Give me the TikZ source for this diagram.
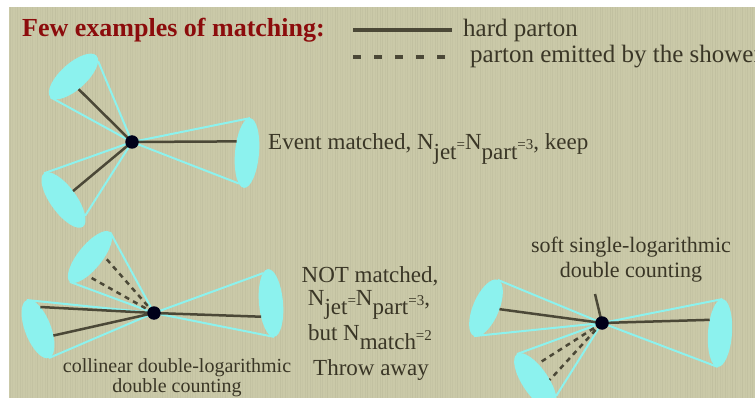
\documentclass[tikz,border=0pt]{standalone}
\usepackage{fontspec}
\setmainfont{Liberation Serif}
\usetikzlibrary{shapes.geometric}
\definecolor{paper}{HTML}{CAC9A8}
\definecolor{conecyan}{HTML}{8CF2EE}
\definecolor{parton}{HTML}{4B4837}
\definecolor{ink}{HTML}{3A3626}
\definecolor{titlered}{HTML}{8C0C0C}
% lowered index and small "=n" as in N_jet=3
\newcommand{\lowsub}[1]{\raisebox{-0.42em}{#1}}
\newcommand{\smallsym}[1]{{\fontsize{15}{15}\selectfont #1}}
\begin{document}
\begin{tikzpicture}[x=1pt,y=-1pt,
		jetell/.style={ellipse,fill=conecyan,inner sep=0pt,outer sep=0pt},
		cone/.style={conecyan,line width=2pt},
		hard/.style={parton,line width=2.5pt},
		soft/.style={parton,line width=2.5pt,dash pattern=on 5pt off 4.5pt},
		vertex/.style={circle,fill=black!90!blue,inner sep=0pt,minimum size=13.5pt},
		lbl/.style={text=ink,inner sep=0pt}]
		\useasboundingbox (0,0) rectangle (755,398);
		\fill[paper] (9,7) rectangle (755,398);
		\clip (9,7) rectangle (755,398);
		% paper grain
		\pgfmathsetseed{7}
		\foreach \sx in {10,12.5,...,755}
			\draw[black,opacity={0.01+0.035*rnd},line width=1pt] (\sx,7) -- (\sx,398);
		% title and legend
		\node[anchor=base west,inner sep=0pt,text=titlered,font=\fontsize{26}{30}\selectfont\bfseries] (title) at (22,37) {Few examples of matching:};
		\coordinate (hl1) at (353,30);
		\coordinate (hl2) at (452,30);
		\coordinate (sl1) at (353,57);
		\coordinate (sl2) at (446,57);
		\draw[parton,line width=3.5pt] (hl1) -- (hl2);
		\draw[parton,line width=3.5pt,dash pattern=on 8pt off 13pt] (sl1) -- (sl2);
		\node[lbl,anchor=base west,font=\fontsize{25}{29}\selectfont] (hardtxt) at (463,37) {hard parton};
		\node[lbl,anchor=base west,font=\fontsize{25}{29}\selectfont] (showertxt) at (470,63) {parton emitted by the shower};
		% event 1: three jets, all matched
		\coordinate (d1) at (132,142);
		\node[jetell,minimum width=62pt,minimum height=26pt,rotate=42] (e1a) at (73.5,76.5) {};
		\node[jetell,minimum width=70pt,minimum height=24pt,rotate=85] (e1b) at (247,153) {};
		\node[jetell,minimum width=66pt,minimum height=26pt,rotate=-54] (e1c) at (63.5,200) {};
		\draw[cone] (d1) -- (e1a.350) (d1) -- (e1a.west);
		\draw[cone] (d1) -- (e1b.east) (d1) -- (e1b.170);
		\draw[cone] (d1) -- (e1c.west) (d1) -- (e1c.18);
		\draw[hard] (d1) -- (e1a.250) (d1) -- (e1b.47) (d1) -- (e1c.97);
		\node[vertex] (v1) at (d1) {};
		\node[lbl,anchor=base west,font=\fontsize{23}{27}\selectfont] (evtxt) at (268,150) {Event matched, N\lowsub{jet}\smallsym{=}N\lowsub{part}\smallsym{=3}, keep};
		% event 2: collinear emission makes its own jet
		\coordinate (d2) at (154,313);
		\node[jetell,minimum width=64pt,minimum height=24pt,rotate=51] (e2a) at (90,257) {};
		\node[jetell,minimum width=62pt,minimum height=26pt,rotate=-69] (e2b) at (38,329) {};
		\node[jetell,minimum width=68pt,minimum height=24pt,rotate=95] (e2c) at (271,303) {};
		\draw[cone] (d2) -- (e2a.east) (d2) -- (e2a.west);
		\draw[cone] (d2) -- (e2b.west) (d2) -- (e2b.east);
		\draw[cone] (d2) -- (e2c.10) (d2) -- (e2c.west);
		\draw[hard] (d2) -- (e2b.153) (d2) -- (e2b.46) (d2) -- (e2c.139);
		\draw[soft] (d2) -- (e2a.309) (d2) -- (e2a.213);
		\node[vertex] (v2) at (d2) {};
		\node[lbl,anchor=base,font=\fontsize{20}{24}\selectfont] (coll1) at (177,372) {collinear double-logarithmic};
		\node[lbl,anchor=base,font=\fontsize{20}{24}\selectfont] (coll2) at (177,392) {double counting};
		\node[lbl,anchor=base,font=\fontsize{23}{27}\selectfont] (not1) at (370,282) {NOT matched,};
		\node[lbl,anchor=base,font=\fontsize{23}{27}\selectfont] (not2) at (369,305) {N\lowsub{jet}\smallsym{=}N\lowsub{part}\smallsym{=3},};
		\node[lbl,anchor=base,font=\fontsize{23}{27}\selectfont] (not3) at (370,340) {but N\lowsub{match}\smallsym{=2}};
		\node[lbl,anchor=base,font=\fontsize{23}{27}\selectfont] (not4) at (371,375) {Throw away};
		% event 3: soft emission makes its own jet
		\coordinate (d3) at (602,323);
		\coordinate (softend) at (595,294);
		\node[jetell,minimum width=61pt,minimum height=26pt,rotate=67] (e3a) at (486,308) {};
		\node[jetell,minimum width=68pt,minimum height=24pt,rotate=86] (e3b) at (720,333) {};
		\node[jetell,minimum width=66pt,minimum height=26pt,rotate=-56] (e3c) at (535.5,381.4) {};
		\draw[cone] (d3) -- (e3a.east) (d3) -- (e3a.west);
		\draw[cone] (d3) -- (e3b.east) (d3) -- (e3b.west);
		\draw[cone] (d3) -- (e3c.west) (d3) -- (e3c.21);
		\draw[hard] (d3) -- (e3a.288) (d3) -- (e3b.42) (d3) -- (softend);
		\draw[soft] (d3) -- (e3c.138) (d3) -- (e3c.62);
		\node[vertex] (v3) at (d3) {};
		\node[lbl,anchor=base,font=\fontsize{22}{26}\selectfont] (soft1) at (631,253) {soft single-logarithmic};
		\node[lbl,anchor=base,font=\fontsize{22}{26}\selectfont] (soft2) at (631,277) {double counting};
\end{tikzpicture}
\end{document}
